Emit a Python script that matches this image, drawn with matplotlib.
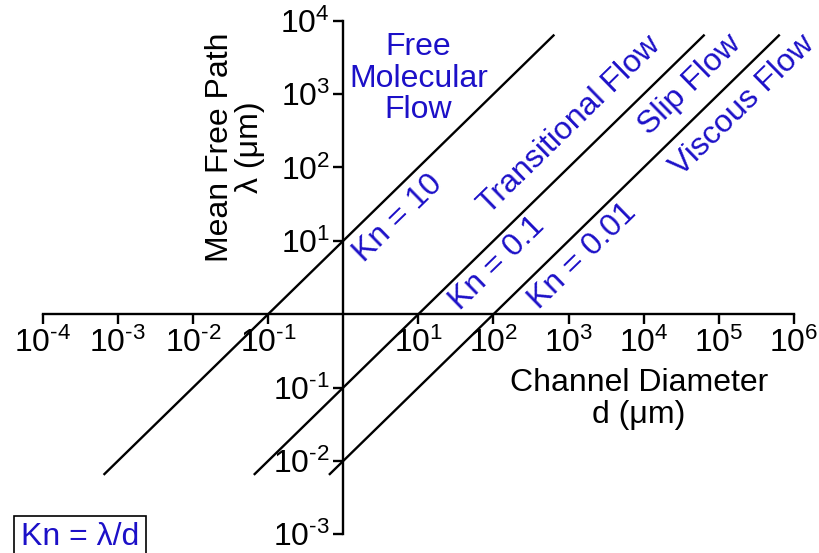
import numpy as np
import matplotlib.pyplot as plt
from matplotlib.ticker import FixedLocator, FixedFormatter

plt.rcParams['font.family'] = ['Liberation Sans', 'DejaVu Sans']
plt.rcParams['mathtext.fontset'] = 'custom'
plt.rcParams['mathtext.rm'] = 'Liberation Sans'
plt.rcParams['mathtext.default'] = 'regular'

# Knudsen lines: lambda = Kn * d, drawn over this lambda range
kn_values = [10, 0.1, 0.01]
lam_range = [10**-2.19, 10**3.81]

x_exps = [-4, -3, -2, -1, 1, 2, 3, 4, 5, 6]
y_exps = [4, 3, 2, 1, -1, -2, -3]

# region labels: (text, log d, log lambda)
region_labels = [
    ('Transitional Flow', 3.01, 2.58),
    ('Slip Flow', 4.62, 3.13),
    ('Viscous Flow', 5.32, 2.84),
]
kn_labels = [
    ('Kn = 10', 0.73, 1.30),
    ('Kn = 0.1', 2.05, 0.69),
    ('Kn = 0.01', 3.19, 0.79),
]

blue = '#1c10c8'
fs = 23


def exp_label(e):
    s = str(e).replace('-', '\u2010')
    return '$10^{%s}$' % s


fig = plt.figure(figsize=(8.2, 5.53), dpi=100)
ax = fig.add_axes([0.0521, 0.0338, 0.9162, 0.9288])
ax.set_xscale('log')
ax.set_yscale('log')
ax.set_xlim(1e-4, 1e6)
ax.set_ylim(1e-3, 1e4)

for kn in kn_values:
    lam = np.array(lam_range)
    ax.plot(lam / kn, lam, color='black', lw=1.7, solid_capstyle='butt')

for s in ['top', 'right']:
    ax.spines[s].set_visible(False)
ax.spines['left'].set_position(('data', 1))
ax.spines['bottom'].set_position(('data', 1))
for s in ['left', 'bottom']:
    ax.spines[s].set_linewidth(1.7)

ax.xaxis.set_major_locator(FixedLocator([10.0**e for e in x_exps]))
ax.xaxis.set_major_formatter(FixedFormatter([exp_label(e) for e in x_exps]))
ax.yaxis.set_major_locator(FixedLocator([10.0**e for e in y_exps]))
ax.yaxis.set_major_formatter(FixedFormatter([exp_label(e) for e in y_exps]))
ax.xaxis.set_minor_locator(FixedLocator([]))
ax.yaxis.set_minor_locator(FixedLocator([]))
ax.tick_params(axis='both', direction='out', length=7.5, width=1.7,
               labelsize=fs, pad=2)

ax.text(10**1.0, 10**3.21, 'Free\nMolecular\nFlow', color=blue, fontsize=fs,
        ha='center', va='center', linespacing=1.05)

angle = 44.3
for txt, lx, ly in region_labels + kn_labels:
    ax.text(10**lx, 10**ly, txt, color=blue, fontsize=fs, rotation=angle,
            rotation_mode='anchor', ha='center', va='center')

fig.text(235 / 820, 1 - 147 / 553, 'Mean Free Path\nλ (μm)', fontsize=fs,
         rotation=90, ha='center', va='center', linespacing=1.0)
fig.text(639 / 820, 1 - 399 / 553, 'Channel Diameter\nd (μm)', fontsize=fs,
         ha='center', va='center', linespacing=1.05)

fig.text(80 / 820, 1 - 545 / 553, 'Kn = λ/d', fontsize=fs, color=blue,
         ha='center', va='baseline',
         bbox=dict(boxstyle='square,pad=0.2', fc='white', ec='black', lw=1.2))

fig.savefig('out.png', dpi=100)
